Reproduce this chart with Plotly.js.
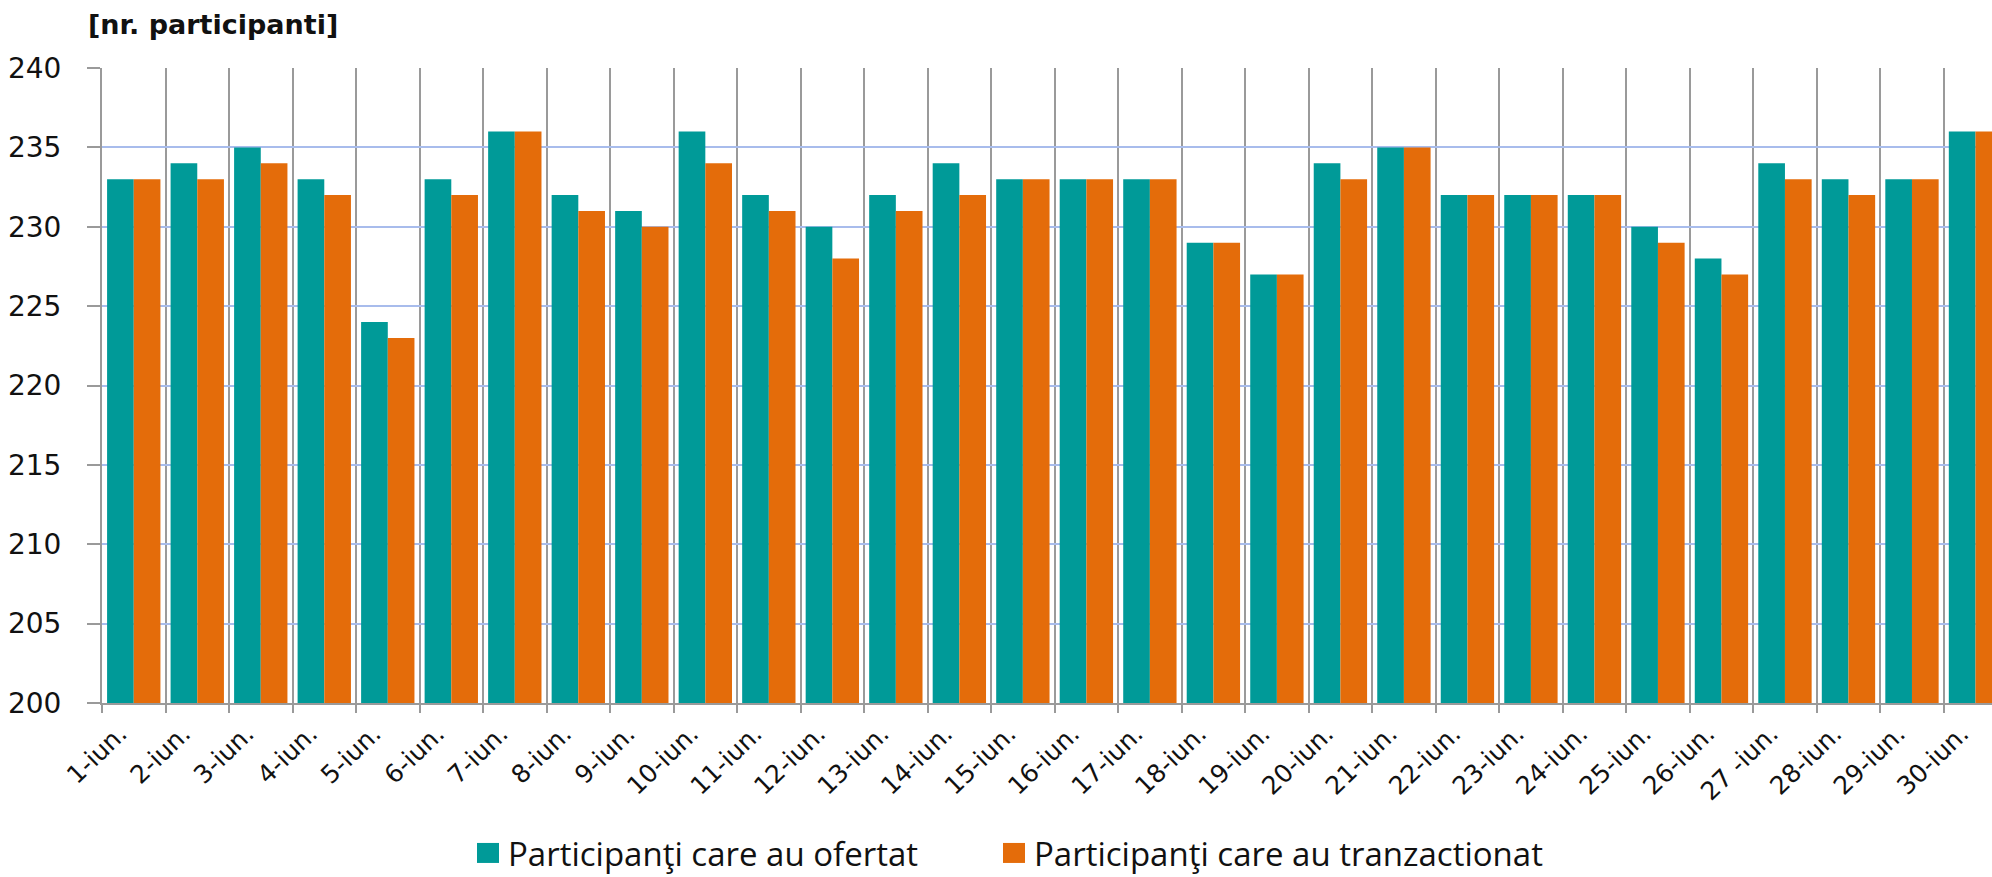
<!DOCTYPE html>
<html>
<head>
<meta charset="utf-8">
<script src="https://cdn.plot.ly/plotly-3.0.1.min.js"></script>
<style>
html, body { margin: 0; padding: 0; background: #fff; overflow: hidden; }
#chart { width: 1992px; height: 877px; }
.legendpoints path { d: path("M11,10H-11V-10H11Z"); }
</style>
</head>
<body>
<div id="chart"></div>
<script>
const categories = ["1-iun.","2-iun.","3-iun.","4-iun.","5-iun.","6-iun.","7-iun.","8-iun.","9-iun.","10-iun.",
  "11-iun.","12-iun.","13-iun.","14-iun.","15-iun.","16-iun.","17-iun.","18-iun.","19-iun.","20-iun.",
  "21-iun.","22-iun.","23-iun.","24-iun.","25-iun.","26-iun.","27 -iun.","28-iun.","29-iun.","30-iun."];
const ofertat = [233,234,235,233,224,233,236,232,231,236,232,230,232,234,233,233,233,229,227,234,235,232,232,232,230,228,234,233,233,236];
const tranzactionat = [233,233,234,232,223,232,236,231,230,234,231,228,231,232,233,233,233,229,227,233,235,232,232,232,229,227,233,232,233,236];
const seriesNames = ["Participanţi care au ofertat", "Participanţi care au tranzactionat"];
const yTicks = [200,205,210,215,220,225,230,235,240];

const data = [
  { type: "bar", x: categories, y: ofertat, name: seriesNames[0], marker: { color: "#009A98" }, hoverinfo: "x+y+name", legend: "legend" },
  { type: "bar", x: categories, y: tranzactionat, name: seriesNames[1], marker: { color: "#E46C0A" }, hoverinfo: "x+y+name", legend: "legend2" }
];

const legendFont = { family: "Open Sans", size: 33, color: "#111" };

const layout = {
  width: 1992, height: 877,
  margin: { l: 102, r: 0, t: 68, b: 174 },
  paper_bgcolor: "#fff", plot_bgcolor: "#fff",
  barmode: "group", bargap: 0.16, bargroupgap: 0,
  showlegend: true,
  title: { text: "<b>[nr. participanti]</b>", font: { family: "DejaVu Sans", size: 27, color: "#111" },
           xref: "container", yref: "container", x: 88/1992, xanchor: "left", y: 1 - 25/877, yanchor: "middle" },
  xaxis: {
    type: "category", range: [-0.5, 29.26], tickson: "boundaries",
    showgrid: true, gridcolor: "#9a9a9a", gridwidth: 2,
    showline: true, linecolor: "#9a9a9a", linewidth: 2,
    ticks: "outside", ticklen: 8, tickwidth: 2, tickcolor: "#9a9a9a",
    tickangle: -44, tickfont: { family: "DejaVu Sans", size: 25, color: "#111" },
    ticklabelstandoff: 4, ticklabelshift: -14,
    fixedrange: true
  },
  yaxis: {
    range: [200, 240], tickvals: yTicks, ticktext: yTicks.map(String),
    showgrid: true, gridcolor: "#a8bcec", gridwidth: 2, zeroline: false,
    showline: true, linecolor: "#9a9a9a", linewidth: 2,
    ticks: "outside", ticklen: 13, tickwidth: 2, tickcolor: "#9a9a9a",
    ticklabelstandoff: 20,
    tickfont: { family: "DejaVu Sans", size: 28, color: "#111" },
    fixedrange: true
  },
  legend: {
    orientation: "h", xref: "container", yref: "container",
    x: 468/1992, xanchor: "left", y: 1 - 853/877, yanchor: "middle",
    font: legendFont, bgcolor: "rgba(0,0,0,0)"
  },
  legend2: {
    orientation: "h", xref: "container", yref: "container",
    x: 994/1992, xanchor: "left", y: 1 - 853/877, yanchor: "middle",
    font: legendFont, bgcolor: "rgba(0,0,0,0)"
  }
};

Plotly.newPlot("chart", data, layout, { displayModeBar: false, staticPlot: true });
</script>
</body>
</html>
